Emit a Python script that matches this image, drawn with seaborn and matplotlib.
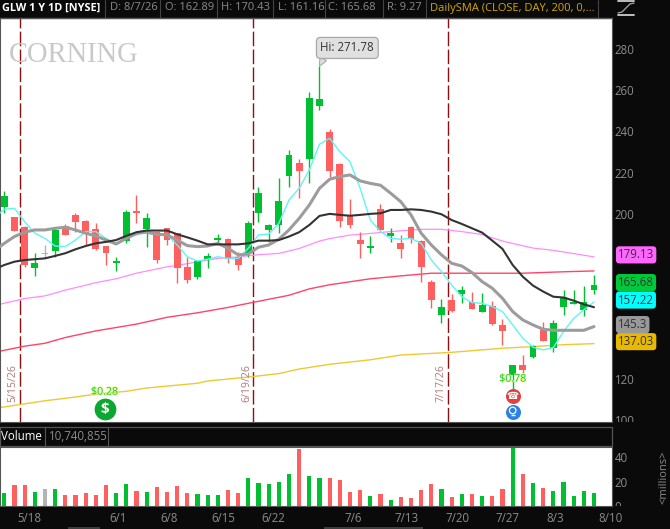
import numpy as np
import pandas as pd
import seaborn as sns
import matplotlib
matplotlib.use("Agg")
import matplotlib.pyplot as plt
from matplotlib.patches import Rectangle
from matplotlib.lines import Line2D
from matplotlib.transforms import Bbox, TransformedBbox
import matplotlib.patheffects as pe

# ---------- data ----------
opens = [203.2,198.5,193.5,173.9,180.5,182.2,194.1,199.5,196.4,192.7,184.4,176.2,187.0,201.4,192.8,191.0,193.0,190.6,174.4,169.5,178.3,187.3,187.8,179.2,180.9,200.3,192.2,194.6,218.6,224.5,226.6,252.5,239.7,224.2,199.5,187.3,183.6,202.2,189.3,185.7,193.8,187.0,166.8,150.9,158.2,161.1,157.1,152.6,155.2,146.1,121.8,126.7,130.6,143.7,135.1,155.0,156.3,153.4,162.89]
highs = [211.3,198.5,194.0,180.9,184.9,193.8,195.1,200.6,197.0,195.4,184.4,179.3,201.9,209.2,200.3,191.0,193.3,190.6,179.3,177.6,180.9,190.2,188.3,181.5,196.6,212.9,195.1,217.4,231.0,226.8,259.1,271.78,241.0,224.5,207.2,191.2,189.3,204.8,193.0,189.8,194.1,187.3,167.9,158.7,161.0,165.2,161.9,161.6,157.7,149.0,126.7,131.5,136.4,147.7,148.5,163.1,163.1,165.2,170.43]
lows = [200.6,191.7,174.0,169.9,178.4,179.3,189.6,191.4,184.9,182.5,175.2,172.3,186.0,195.7,184.1,176.0,184.9,166.3,166.6,168.4,173.6,185.2,176.3,172.9,179.3,196.1,186.5,190.9,213.2,207.6,215.2,250.4,218.0,193.8,193.2,178.8,180.9,192.2,186.5,178.8,186.0,167.1,154.5,147.1,152.4,156.9,154.0,152.6,146.3,136.4,114.6,123.0,130.3,138.3,133.2,150.9,156.3,150.6,161.16]
closes = [208.7,191.7,175.2,176.0,180.5,192.2,189.6,196.1,190.6,182.8,180.9,177.1,200.9,200.6,197.8,177.6,187.3,173.9,167.9,177.1,179.6,188.3,178.0,175.0,195.4,210.0,194.6,206.3,228.6,220.8,256.2,255.7,220.8,196.7,194.6,185.4,184.4,192.2,190.6,183.0,188.0,174.4,158.2,154.8,153.0,163.1,154.0,155.8,146.6,143.3,126.7,124.3,135.9,138.3,146.9,159.8,157.4,157.4,165.68]
volumes = [10.6,17,17,11.4,14,14,9,9,10.6,9,17,10.6,18,12.2,11.4,15.5,11.4,16.3,10.6,9.8,9,9,13,10.6,22.8,18.8,18,19.6,26,46.5,24.5,22.8,22.8,21,11.4,13,8,9.8,5,7.3,6.5,13,18,14,7.3,9.8,9.8,8,8,14,47.3,26,18.8,14.7,12.2,19.6,8,12.2,10.74]

ma_days = list(range(-1, 59))
cyan_ma = [198.0,202.2,202.7,196.2,190.6,188.1,184.4,184.1,187.3,191.4,191.4,188.1,185.2,188.1,189.8,191.4,189.8,189.8,184.9,179.2,177.1,178.0,179.2,178.4,178.4,183.3,189.8,190.2,195.4,206.7,212.4,221.3,233.8,236.7,230.2,225.3,212.4,197.0,191.4,188.1,187.7,188.1,185.7,177.6,172.0,165.5,159.8,156.9,156.6,155.0,152.6,146.1,139.6,135.3,134.0,135.1,142.9,149.3,153.4,157.22]
gray_ma = [182.0,185.7,189.0,191.1,192.2,192.2,193.0,193.5,192.2,190.6,189.3,187.3,185.4,188.1,190.6,191.1,190.1,189.8,187.3,184.6,184.1,184.4,185.7,183.3,180.1,180.5,183.8,184.9,187.7,192.2,197.8,204.3,212.4,216.8,218.1,218.9,216.0,214.8,213.9,210.0,205.9,199.5,190.6,184.9,180.1,176.0,174.7,171.5,167.1,163.9,159.0,152.6,148.5,146.1,144.0,143.5,143.5,143.5,143.5,145.3]
black_ma = [173.0,175.2,176.8,177.6,178.0,178.4,179.6,180.9,182.8,184.4,185.7,186.4,187.3,189.3,191.1,191.9,191.9,191.9,190.1,188.6,187.0,185.2,185.2,185.2,185.2,185.7,187.0,187.0,187.3,189.0,191.1,194.6,199.0,200.0,199.5,199.1,199.5,200.0,200.3,201.9,201.9,202.2,201.9,201.1,199.8,197.0,195.1,193.0,190.9,187.0,183.0,175.2,169.5,165.2,162.3,159.8,159.4,157.9,156.1,154.7]
magenta_days = [-1,2,4,6,9,11,13,16,17,19,21,23,25,27,29,31,32,34,36,38,41,43,45,47,49,52,54,58]
magenta_ma = [155.5,158.9,160.2,163.0,166.6,168.5,171.2,174.3,175.0,176.7,178.4,179.1,180.2,180.8,183.2,186.8,188.0,189.7,190.5,191.4,192.5,192.5,191.4,190.0,186.8,183.4,182.3,179.13]
red_days = [-1,2,4,6,9,13,16,19,22,24,28,30,32,36,39,42,46,51,55,58]
red_ma = [132.8,135.8,137.2,140.0,143.2,146.5,149.8,152.0,154.6,156.6,160.5,163.6,165.6,168.5,169.9,171.2,171.2,171.2,171.9,172.3]
yellow_days = [-1,2,4,6,9,12,14,19,20,24,27,29,32,36,39,44,49,52,55,58]
yellow_ma = [105.6,107.8,109.3,110.5,112.5,113.9,115.5,117.8,118.9,120.8,122.5,124.7,127.0,129.2,131.5,132.8,134.8,135.6,136.5,137.03]

price_ticks = list(range(100, 300, 20))
price_tick_labels = ["100","120","","","","200","220","240","260","280"]
volume_ticks = [0, 20, 40]
date_positions = [2.5,11.2,16.2,21.5,26.5,34.3,39.6,44.6,49.5,54.2,59.6]
date_labels = ["5/18","6/1","6/8","6/15","6/22","7/6","7/13","7/20","7/27","8/3","8/10"]
event_days = [1.5,24.5,43.6]
event_labels = ["5/15/26","6/19/26","7/17/26"]
flag_values = [179.13,165.68,157.22,145.3,137.03]
flag_labels = ["179.13","165.68","157.22","145.3","137.03"]
flag_colors = ["#ff66ff","#00c83c","#00ffff","#999999","#e8b900"]
header_items = [("GLW 1 Y 1D [NYSE]",2,"#ffffff","bold",7.8),("D: 8/7/26",110,"#8c8c8c","normal",8.0),
                ("O: 162.89",165,"#8c8c8c","normal",8.0),("H: 170.43",221,"#8c8c8c","normal",8.0),
                ("L: 161.16",278,"#8c8c8c","normal",8.0),("C: 165.68",328,"#8c8c8c","normal",8.0),
                ("R: 9.27",387,"#8c8c8c","normal",8.0),("DailySMA (CLOSE, DAY, 200, 0,...",430,"#d4a800","normal",8)]
header_seps = [105,160,217,273,325,383,426,598]

GREEN, RED, GRAY = "#00c032", "#ff5f5f", "#b4b4b4"
DARK = "#0a0a0a"
W, H = 670, 529

sns.set_theme(style="white")
plt.rcParams["font.family"] = ["Open Sans", "DejaVu Sans"]

days = np.arange(len(closes))
o, h, l, c = map(np.array, (opens, highs, lows, closes))
kind = np.where(c > o, "up", np.where(c < o, "down", "flat"))
palette = {"up": GREEN, "down": RED, "flat": GRAY}
colors = [palette[k] for k in kind]

fig = plt.figure(figsize=(W/100, H/100), dpi=100, facecolor=DARK)
def fx(p): return p / W
def fy(p): return 1 - p / H

ax = fig.add_axes([0, fy(422), fx(612), (422-18)/H], facecolor="white")
axv = fig.add_axes([0, fy(506), fx(612), (506-446.5)/H], facecolor="white")
xlim = (-0.423, 59.77)

# moving averages
for xs, ys, col, lw, z in [(yellow_days, yellow_ma, "#f0c832", 1.0, 2),
                           (red_days, red_ma, "#ff4468", 1.0, 2),
                           (magenta_days, magenta_ma, "#ff8cff", 0.9, 2)]:
    sns.lineplot(x=xs, y=ys, color=col, lw=lw, ax=ax, zorder=z, legend=False, errorbar=None, estimator=None)

# candles
ax.vlines(days, l, h, colors=colors, lw=1.0, zorder=3)
body_lo = np.minimum(o, c); body_hi = np.maximum(o, c)
ax.bar(days, np.maximum(body_hi-body_lo, 0.5), bottom=body_lo, width=0.68, color=colors, lw=0, zorder=3)

for ys, col, lw in [(cyan_ma, "#62f4f4", 1.0), (gray_ma, "#9c9c9c", 2.2), (black_ma, "#333333", 1.5)]:
    sns.lineplot(x=ma_days, y=ys, color=col, lw=lw, ax=ax, zorder=4, legend=False, errorbar=None, estimator=None)

ax.set_xlim(*xlim)
ax.set_ylim(99.0, 295.05)
ax.set_xticks([])
ax.set_xlabel(""); ax.set_ylabel("")
ax.yaxis.tick_right()
ax.set_yticks(price_ticks)
ax.set_yticklabels(price_tick_labels)
ax.tick_params(axis="y", length=0, pad=2, labelsize=8.3, labelcolor="#8c8c8c")
for s in ax.spines.values():
    s.set_color("#555555"); s.set_linewidth(0.8)

clip_main = TransformedBbox(Bbox.from_extents(fx(612), fy(422), 1, fy(18)), fig.transFigure)
for t in ax.get_yticklabels():
    t.set_clip_box(clip_main); t.set_clip_on(True)

# event lines
for d, lab in zip(event_days, event_labels):
    ax.axvline(d, color="#8f0f0f", lw=1.0, linestyle=(0, (10.5, 2.4)), zorder=1)
    ax.annotate(lab, xy=(d, 117.9), xytext=(-7, 0), textcoords="offset pixels", rotation=90,
                ha="center", va="center", fontsize=7.6, color="#b07a7a", zorder=2)

# flags
for v, lab, col in zip(flag_values, flag_labels, flag_colors):
    ax.annotate(lab, xy=(1, v), xycoords=ax.get_yaxis_transform(), xytext=(6, 2), textcoords="offset pixels",
                ha="left", va="center", fontsize=8.3, color="#333333", annotation_clip=False, zorder=10,
                bbox=dict(boxstyle="round,pad=0.18,rounding_size=0.3", fc=col, ec="none"))

# high callout
ax.annotate("Hi: 271.78", xy=(31, 271.78), xytext=(1, 18), textcoords="offset pixels",
            fontsize=8.3, color="#333333", ha="left", va="center", zorder=11,
            bbox=dict(boxstyle="round,pad=0.35", fc="#e0e0e0", ec="#a8a8a8", lw=0.9),
            arrowprops=dict(arrowstyle="wedge,tail_width=0.6,shrink_factor=0.6", fc="#e0e0e0", ec="#a8a8a8",
                            lw=0.8, relpos=(0.1, 0), shrinkA=0, shrinkB=0))

# chart title watermark
ax.text(fx(9)/fx(612), 1-(55-18)/404, "CORNING", transform=ax.transAxes, family="Liberation Serif",
        fontsize=20.6, color="#c9c9c9", va="center", ha="left", zorder=1)

# corporate events
glow = [pe.withStroke(linewidth=1.0, foreground="#e8ff70", alpha=0.8)]
ax.scatter([9.9], [105.3], s=245, color="#0aa82e", zorder=6, linewidths=0)
ax.text(9.9, 105.1, "$", color="white", fontsize=11, fontweight="bold", ha="center", va="center", zorder=7)
ax.text(9.85, 113.5, "$0.28", color="#22cc44", fontsize=7.6, ha="center", va="center", zorder=5, path_effects=glow)
ax.text(50, 119.8, "$0.78", color="#22cc44", fontsize=7.6, ha="center", va="center", zorder=5, path_effects=glow)
ax.scatter([50], [111.6], s=117, color="#e44040", zorder=6, linewidths=0)
ax.text(50, 111.5, "\u260e", color="white", fontsize=7, ha="center", va="center", zorder=7, family="DejaVu Sans")
ax.scatter([50], [103.9], s=117, color="#2a82e4", zorder=6, linewidths=0)
ax.scatter([50], [104.6], s=22, facecolors="none", edgecolors="white", linewidths=0.9, zorder=7)
ax.scatter([50], [102.2], s=10, marker="_", color="white", linewidths=1.0, zorder=7)

# volume panel
vol_df = pd.DataFrame({"day": days, "volume": volumes, "kind": kind})
sns.barplot(data=vol_df, x="day", y="volume", hue="kind", palette=palette, native_scale=True,
            dodge=False, width=0.4, gap=0, legend=False, ax=axv, saturation=1, errorbar=None, linewidth=0)
axv.set_xlim(*xlim)
axv.set_ylim(0, 48.6)
axv.set_xlabel(""); axv.set_ylabel("")
axv.yaxis.tick_right()
axv.set_yticks(volume_ticks)
axv.set_yticklabels([str(t) for t in volume_ticks])
axv.set_xticks(date_positions)
axv.set_xticklabels(date_labels)
axv.tick_params(axis="both", length=0, labelsize=8.3, labelcolor="#8c8c8c")
axv.tick_params(axis="x", pad=4)
axv.tick_params(axis="y", pad=2)
for s in axv.spines.values():
    s.set_color("#555555"); s.set_linewidth(0.8)
clip_vol = TransformedBbox(Bbox.from_extents(fx(612), fy(506), 1, fy(446)), fig.transFigure)
for t in axv.get_yticklabels():
    t.set_clip_box(clip_vol); t.set_clip_on(True)

# header strip
for txt, px, col, wt, size in header_items:
    fig.text(fx(px), fy(8), txt, color=col, fontweight=wt, fontsize=size, va="center", ha="left")
for px in header_seps:
    fig.add_artist(Line2D([fx(px)]*2, [fy(0), fy(17)], color="#444444", lw=0.8))
fig.add_artist(Line2D([0, fx(612)], [fy(18)]*2, color="#555555", lw=1.0))

# volume strip
fig.add_artist(Rectangle((0, fy(446)), fx(612), (446-427)/H, transform=fig.transFigure, fc=DARK, ec="#555555", lw=0.9))
fig.text(fx(1), fy(436.5), "Volume", color="#ffffff", fontsize=8.3, va="center", ha="left")
fig.text(fx(49), fy(436.5), "10,740,855", color="#8c8c8c", fontsize=8.3, va="center", ha="left")
for px in (45, 108):
    fig.add_artist(Line2D([fx(px)]*2, [fy(427), fy(446)], color="#555555", lw=0.8))
fig.text(fx(664), fy(477), "<millions>", color="#8c8c8c", fontsize=8, rotation=90, va="center", ha="center")

# top right glyph
fig.add_artist(Line2D([fx(618), fx(634)], [fy(1)]*2, color="#cccccc", lw=1.3))
fig.add_artist(Line2D([fx(618), fx(634)], [fy(15)]*2, color="#cccccc", lw=1.3))
fig.add_artist(Line2D([fx(618), fx(622), fx(626), fx(630), fx(634)],
                      [fy(13), fy(12), fy(8), fy(4), fy(3)], color="#aaaaaa", lw=0.9))

# scrollbars
for px, wd in [(68, 32), (324, 99)]:
    fig.add_artist(Rectangle((fx(px), 0), fx(wd), 2/H, transform=fig.transFigure, fc="#3c3c3c", ec="none"))

fig.savefig("out.png", dpi=100, facecolor=fig.get_facecolor())
